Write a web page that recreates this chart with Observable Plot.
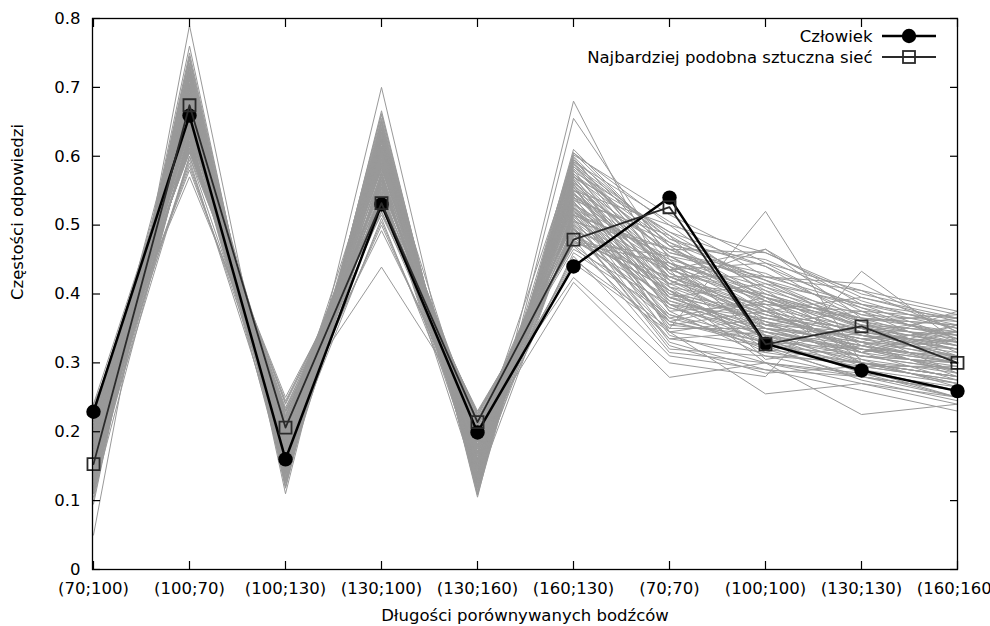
<!DOCTYPE html>
<html>
<head>
<meta charset="utf-8">
<script src="https://cdn.jsdelivr.net/npm/d3@7"></script>
<script src="https://cdn.jsdelivr.net/npm/@observablehq/plot@0.6"></script>
<style>
  html, body { margin: 0; padding: 0; background: white; }
  #chart { width: 990px; height: 626px; }
</style>
</head>
<body>
<div id="chart"></div>
<script>
const cats = ["(70;100)", "(100;70)", "(100;130)", "(130;100)", "(130;160)", "(160;130)", "(70;70)", "(100;100)", "(130;130)", "(160;160)"];
const yTicks = [0, 0.1, 0.2, 0.3, 0.4, 0.5, 0.6, 0.7, 0.8];
const xTitle = "Długości porównywanych bodźców";
const yTitle = "Częstości odpowiedzi";
const humanLabel = "Człowiek";
const netLabel = "Najbardziej podobna sztuczna sieć";

const human = [0.229, 0.659, 0.160, 0.530, 0.199, 0.440, 0.540, 0.328, 0.289, 0.259];
const bestNet = [0.153, 0.674, 0.206, 0.532, 0.214, 0.479, 0.526, 0.327, 0.353, 0.300];

const nets = [
  [0.050,0.790,0.120,0.700,0.110,0.680,0.410,0.360,0.300,0.270],
  [0.095,0.760,0.110,0.666,0.105,0.655,0.450,0.330,0.290,0.250],
  [0.100,0.750,0.125,0.660,0.115,0.610,0.470,0.380,0.320,0.290],
  [0.105,0.745,0.130,0.655,0.120,0.605,0.500,0.400,0.350,0.300],
  [0.110,0.740,0.120,0.650,0.112,0.600,0.460,0.420,0.360,0.310],
  [0.115,0.735,0.135,0.645,0.125,0.598,0.430,0.370,0.330,0.280],
  [0.120,0.730,0.140,0.640,0.130,0.595,0.480,0.440,0.380,0.330],
  [0.125,0.725,0.128,0.638,0.118,0.590,0.420,0.350,0.310,0.300],
  [0.130,0.722,0.145,0.635,0.135,0.585,0.455,0.390,0.340,0.320],
  [0.135,0.718,0.150,0.632,0.140,0.580,0.400,0.360,0.320,0.290],
  [0.140,0.715,0.138,0.630,0.128,0.578,0.490,0.410,0.370,0.340],
  [0.145,0.712,0.155,0.628,0.145,0.575,0.440,0.340,0.300,0.270],
  [0.150,0.710,0.160,0.625,0.150,0.572,0.385,0.330,0.290,0.260],
  [0.155,0.706,0.148,0.622,0.138,0.570,0.470,0.450,0.390,0.350],
  [0.160,0.703,0.165,0.620,0.155,0.568,0.430,0.380,0.350,0.330],
  [0.165,0.700,0.170,0.618,0.160,0.565,0.410,0.320,0.280,0.250],
  [0.170,0.698,0.158,0.615,0.148,0.562,0.460,0.430,0.370,0.360],
  [0.175,0.695,0.175,0.612,0.165,0.560,0.395,0.350,0.330,0.300],
  [0.180,0.692,0.180,0.610,0.170,0.558,0.445,0.400,0.360,0.340],
  [0.185,0.690,0.168,0.608,0.158,0.555,0.375,0.310,0.300,0.280],
  [0.190,0.688,0.185,0.605,0.175,0.552,0.420,0.370,0.340,0.320],
  [0.195,0.685,0.190,0.602,0.180,0.550,0.465,0.460,0.400,0.370],
  [0.200,0.682,0.178,0.600,0.168,0.548,0.390,0.340,0.310,0.290],
  [0.205,0.680,0.195,0.598,0.185,0.545,0.435,0.390,0.330,0.310],
  [0.210,0.678,0.200,0.595,0.190,0.542,0.360,0.330,0.320,0.300],
  [0.215,0.675,0.188,0.592,0.178,0.540,0.475,0.420,0.380,0.350],
  [0.220,0.672,0.205,0.590,0.195,0.538,0.405,0.300,0.280,0.260],
  [0.225,0.670,0.210,0.588,0.200,0.535,0.350,0.350,0.340,0.310],
  [0.230,0.668,0.198,0.585,0.188,0.532,0.425,0.380,0.300,0.280],
  [0.240,0.665,0.215,0.582,0.205,0.530,0.450,0.410,0.350,0.330],
  [0.120,0.662,0.220,0.580,0.210,0.528,0.380,0.345,0.315,0.295],
  [0.130,0.660,0.130,0.578,0.130,0.525,0.440,0.395,0.365,0.345],
  [0.140,0.658,0.142,0.575,0.140,0.522,0.340,0.300,0.270,0.240],
  [0.150,0.655,0.152,0.572,0.150,0.520,0.415,0.355,0.325,0.305],
  [0.160,0.652,0.162,0.570,0.160,0.518,0.455,0.425,0.385,0.355],
  [0.170,0.650,0.172,0.568,0.170,0.515,0.370,0.320,0.300,0.280],
  [0.180,0.648,0.182,0.565,0.180,0.512,0.400,0.375,0.345,0.325],
  [0.190,0.645,0.192,0.562,0.190,0.510,0.330,0.290,0.260,0.230],
  [0.200,0.642,0.202,0.560,0.200,0.508,0.420,0.365,0.335,0.305],
  [0.210,0.640,0.212,0.558,0.210,0.505,0.465,0.415,0.355,0.335],
  [0.220,0.638,0.222,0.555,0.215,0.502,0.355,0.340,0.290,0.270],
  [0.110,0.635,0.140,0.552,0.125,0.500,0.410,0.385,0.375,0.365],
  [0.125,0.632,0.155,0.550,0.138,0.498,0.320,0.310,0.280,0.260],
  [0.135,0.630,0.165,0.548,0.148,0.495,0.390,0.355,0.325,0.300],
  [0.145,0.628,0.175,0.545,0.158,0.492,0.435,0.395,0.345,0.320],
  [0.155,0.625,0.185,0.542,0.168,0.490,0.365,0.330,0.305,0.285],
  [0.165,0.622,0.195,0.540,0.178,0.488,0.345,0.325,0.300,0.290],
  [0.175,0.620,0.205,0.538,0.188,0.485,0.405,0.360,0.335,0.315],
  [0.185,0.618,0.215,0.535,0.198,0.482,0.380,0.340,0.320,0.300],
  [0.195,0.615,0.225,0.532,0.208,0.480,0.315,0.300,0.285,0.250],
  [0.205,0.612,0.230,0.530,0.218,0.478,0.395,0.370,0.340,0.330],
  [0.215,0.610,0.235,0.528,0.222,0.475,0.425,0.365,0.350,0.340],
  [0.225,0.608,0.240,0.525,0.225,0.472,0.360,0.325,0.310,0.290],
  [0.235,0.605,0.245,0.520,0.228,0.470,0.335,0.315,0.295,0.275],
  [0.140,0.600,0.250,0.515,0.230,0.465,0.385,0.350,0.330,0.320],
  [0.170,0.595,0.160,0.510,0.165,0.460,0.370,0.335,0.310,0.300],
  [0.200,0.590,0.180,0.505,0.185,0.455,0.310,0.290,0.280,0.260],
  [0.210,0.585,0.200,0.519,0.200,0.450,0.350,0.520,0.300,0.280],
  [0.220,0.580,0.210,0.492,0.210,0.445,0.345,0.255,0.270,0.250],
  [0.240,0.570,0.230,0.439,0.220,0.424,0.300,0.280,0.433,0.330],
  [0.160,0.600,0.190,0.500,0.190,0.417,0.279,0.300,0.225,0.240],
  [0.175,0.705,0.165,0.615,0.150,0.585,0.480,0.420,0.350,0.320],
  [0.185,0.690,0.175,0.600,0.160,0.570,0.490,0.440,0.360,0.330],
  [0.145,0.675,0.145,0.585,0.135,0.550,0.500,0.460,0.395,0.360],
  [0.155,0.660,0.155,0.570,0.145,0.540,0.440,0.350,0.315,0.345],
  [0.165,0.645,0.170,0.555,0.155,0.530,0.415,0.400,0.360,0.370],
  [0.195,0.630,0.185,0.540,0.175,0.515,0.385,0.365,0.330,0.375],
  [0.205,0.700,0.195,0.625,0.185,0.595,0.445,0.405,0.365,0.355],
  [0.190,0.720,0.160,0.640,0.140,0.605,0.470,0.390,0.340,0.310],
  [0.130,0.690,0.150,0.610,0.120,0.575,0.425,0.375,0.345,0.325],
  [0.215,0.660,0.200,0.575,0.195,0.525,0.395,0.345,0.320,0.310],
  [0.180,0.640,0.170,0.560,0.175,0.500,0.360,0.390,0.355,0.345],
  [0.118,0.728,0.132,0.648,0.122,0.592,0.435,0.445,0.405,0.345],
  [0.128,0.712,0.142,0.634,0.132,0.582,0.455,0.375,0.395,0.365],
  [0.138,0.702,0.152,0.624,0.142,0.566,0.395,0.415,0.385,0.335],
  [0.148,0.692,0.162,0.614,0.152,0.556,0.375,0.385,0.365,0.355],
  [0.158,0.682,0.172,0.604,0.162,0.546,0.445,0.355,0.375,0.315],
  [0.168,0.672,0.182,0.594,0.172,0.536,0.485,0.405,0.325,0.285],
  [0.178,0.662,0.192,0.584,0.182,0.526,0.365,0.395,0.305,0.265],
  [0.188,0.652,0.202,0.574,0.192,0.516,0.435,0.305,0.325,0.305],
  [0.198,0.642,0.212,0.564,0.202,0.506,0.405,0.325,0.275,0.245],
  [0.208,0.632,0.222,0.554,0.212,0.496,0.325,0.285,0.295,0.275],
  [0.218,0.622,0.232,0.544,0.222,0.486,0.415,0.465,0.365,0.325],
  [0.228,0.612,0.242,0.534,0.226,0.476,0.455,0.385,0.315,0.355],
  [0.112,0.742,0.118,0.662,0.108,0.602,0.515,0.445,0.375,0.335],
  [0.122,0.732,0.128,0.652,0.118,0.588,0.485,0.355,0.345,0.365],
  [0.132,0.716,0.138,0.642,0.128,0.574,0.475,0.395,0.355,0.305],
  [0.142,0.696,0.148,0.626,0.138,0.560,0.345,0.365,0.335,0.345],
  [0.152,0.686,0.158,0.606,0.148,0.544,0.425,0.425,0.405,0.375],
  [0.162,0.666,0.168,0.596,0.158,0.534,0.395,0.345,0.295,0.295],
  [0.172,0.656,0.178,0.586,0.168,0.524,0.355,0.375,0.315,0.335],
  [0.182,0.646,0.188,0.576,0.178,0.514,0.465,0.395,0.345,0.285],
  [0.192,0.636,0.198,0.566,0.188,0.504,0.385,0.315,0.355,0.325],
  [0.202,0.626,0.208,0.556,0.198,0.494,0.335,0.345,0.325,0.355],
  [0.212,0.616,0.218,0.546,0.208,0.484,0.405,0.335,0.285,0.265],
  [0.232,0.606,0.228,0.536,0.218,0.474,0.445,0.375,0.315,0.275],
  [0.116,0.704,0.144,0.621,0.134,0.592,0.505,0.425,0.415,0.345],
  [0.186,0.676,0.164,0.589,0.154,0.562,0.435,0.465,0.385,0.365]
];

const grayData = nets.flatMap((row, id) => row.map((v, i) => ({id, cat: cats[i], v})));
const humanData = human.map((v, i) => ({cat: cats[i], v}));
const netData = bestNet.map((v, i) => ({cat: cats[i], v}));

const yFmt = d => d === 0 ? "0" : d.toFixed(1);

const chart = Plot.plot({
  width: 990,
  height: 626,
  marginLeft: 92,
  marginRight: 33,
  marginTop: 18,
  marginBottom: 57,
  style: {fontFamily: "DejaVu Sans", fontSize: "16.5px", background: "white", color: "black", overflow: "visible"},
  x: {type: "point", domain: cats, padding: 0},
  y: {domain: [0, 0.8]},
  marks: [
    Plot.line(grayData, {x: "cat", y: "v", z: "id", stroke: "#999999", strokeWidth: 1}),
    Plot.line(humanData, {x: "cat", y: "v", stroke: "black", strokeWidth: 2.5}),
    Plot.dot(humanData, {x: "cat", y: "v", r: 7.2, fill: "black"}),
    Plot.line(netData, {x: "cat", y: "v", stroke: "#2a2a2a", strokeWidth: 1.8}),
    Plot.dot(netData, {x: "cat", y: "v", symbol: "square", r: 6.8, stroke: "#2a2a2a", strokeWidth: 1.8, fill: "none"}),
    Plot.frame({stroke: "black", strokeWidth: 1.3}),
    Plot.axisY(yTicks, {anchor: "left", tickSize: -8, tickPadding: 20, tickFormat: yFmt, label: null, strokeWidth: 1.2}),
    Plot.axisY(yTicks, {anchor: "right", tickSize: -8, tickFormat: () => "", label: null, strokeWidth: 1.2}),
    Plot.axisX(cats, {anchor: "bottom", tickSize: -8, tickPadding: 21, label: null, strokeWidth: 1.2}),
    Plot.axisX(cats, {anchor: "top", tickSize: -8, tickFormat: () => "", label: null, strokeWidth: 1.2}),
    Plot.text([xTitle], {frameAnchor: "bottom", dy: 46, lineAnchor: "middle", text: d => d, fill: "black"}),
    Plot.text([yTitle], {frameAnchor: "left", dx: -75, dy: 6, lineAnchor: "middle", rotate: -90, text: d => d, fill: "black"}),
    Plot.text([humanLabel], {frameAnchor: "top-right", dx: -85, dy: 18, lineAnchor: "middle", textAnchor: "end", text: d => d, fill: "black"}),
    Plot.text([netLabel], {frameAnchor: "top-right", dx: -85, dy: 39, lineAnchor: "middle", textAnchor: "end", text: d => d, fill: "black"})
  ]
});

// legend sample lines and symbols (decoration)
const svg = d3.select(chart);
const lg = svg.append("g");
lg.append("line").attr("x1", 882).attr("x2", 936).attr("y1", 36).attr("y2", 36).attr("stroke", "black").attr("stroke-width", 2.5);
lg.append("circle").attr("cx", 909).attr("cy", 36).attr("r", 7.2).attr("fill", "black");
lg.append("line").attr("x1", 882).attr("x2", 936).attr("y1", 57).attr("y2", 57).attr("stroke", "#2a2a2a").attr("stroke-width", 1.8);
lg.append("rect").attr("x", 903).attr("y", 51).attr("width", 12).attr("height", 12).attr("fill", "none").attr("stroke", "#2a2a2a").attr("stroke-width", 1.8);

document.getElementById("chart").appendChild(chart);
</script>
</body>
</html>
